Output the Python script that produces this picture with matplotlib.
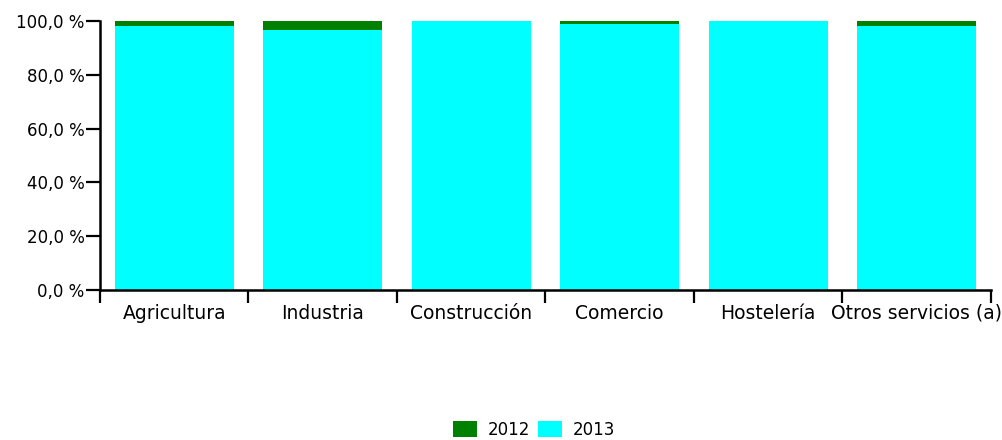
import numpy as np
import matplotlib
matplotlib.use('Agg')
import matplotlib.pyplot as plt
from matplotlib.ticker import FuncFormatter

# Datos (porcentaje sobre el total de cada sector)
sectores = ['Agricultura', 'Industria', 'Construcción', 'Comercio', 'Hostelería', 'Otros servicios (a)']
valores_2012 = [1.9, 3.3, 0.0, 1.0, 0.0, 1.8]
valores_2013 = [98.1, 96.7, 100.0, 99.0, 100.0, 98.2]

colores = {'2012': '#008000', '2013': '#00FFFF'}

plt.rcParams['font.family'] = ['DejaVu Sans']
plt.rcParams['font.size'] = 12

fig = plt.figure(figsize=(10.03, 4.40), dpi=100)
ax = fig.add_axes([100 / 1003, 150 / 440, 891 / 1003, 269 / 440])

x = np.arange(len(sectores))
ax.bar(x, valores_2013, width=0.8, color=colores['2013'], label='2013')
ax.bar(x, valores_2012, width=0.8, bottom=valores_2013, color=colores['2012'], label='2012')

ax.set_xlim(-0.5, len(sectores) - 0.5)
ax.set_ylim(0, 100)

# ejes
for lado in ['top', 'right']:
    ax.spines[lado].set_visible(False)
for lado in ['left', 'bottom']:
    ax.spines[lado].set_linewidth(1.8)
    ax.spines[lado].set_color('black')

ax.set_yticks(np.arange(0, 101, 20))
ax.yaxis.set_major_formatter(FuncFormatter(lambda v, p: f'{v:.1f} %'.replace('.', ',')))
ax.tick_params(axis='y', length=10, width=1.6, pad=1, labelsize=12)

ax.set_xticks(x)
ax.set_xticklabels(sectores)
ax.tick_params(axis='x', which='major', length=0, pad=10, labelsize=13.5)
ax.set_xticks(np.arange(-0.5, len(sectores)), minor=True)
ax.tick_params(axis='x', which='minor', length=9, width=1.6, direction='out')

# leyenda
handles, labels = ax.get_legend_handles_labels()
fig.legend(handles[::-1], labels[::-1], loc='center', ncol=2,
           bbox_to_anchor=(534 / 1003, 10 / 440), frameon=False,
           handlelength=1.45, handleheight=1.1, handletextpad=0.6,
           columnspacing=0.5, fontsize=12)

fig.savefig('out.png', dpi=100)
plt.close(fig)
